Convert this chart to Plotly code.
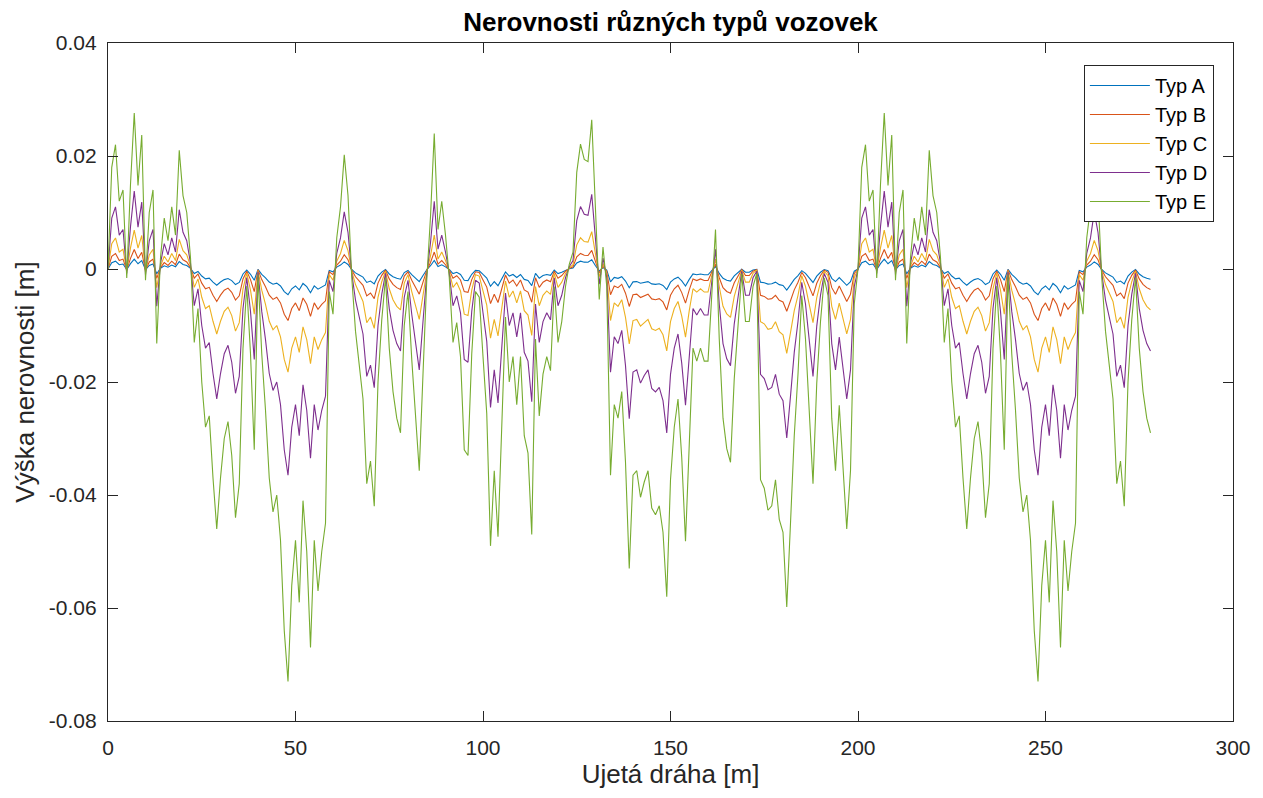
import plotly.graph_objects as go

# Ujetá dráha [m]
distance_m = list(range(0, 279))

# Výška nerovnosti [m] – Typ E (1 m step)
typ_E = [
    0.0000, 0.0180, 0.0220, 0.0120, 0.0140, -0.0016, 0.0150, 0.0276, 0.0148, 0.0237,
    -0.0020, 0.0100, 0.0140, -0.0132, 0.0020, 0.0090, 0.0050, 0.0110, 0.0060, 0.0210,
    0.0130, 0.0100, 0.0020, -0.0130, -0.0070, -0.0200, -0.0280, -0.0260, -0.0370, -0.0460,
    -0.0370, -0.0300, -0.0270, -0.0330, -0.0440, -0.0380, -0.0140, -0.0030, -0.0150, -0.0320,
    -0.0010, -0.0150, -0.0250, -0.0370, -0.0430, -0.0400, -0.0480, -0.0640, -0.0730, -0.0560,
    -0.0480, -0.0590, -0.0410, -0.0500, -0.0670, -0.0480, -0.0570, -0.0500, -0.0450, -0.0040,
    -0.0080, 0.0055, 0.0110, 0.0202, 0.0130, -0.0015, -0.0110, -0.0170, -0.0230, -0.0380,
    -0.0340, -0.0420, -0.0200, -0.0090, -0.0015, -0.0140, -0.0217, -0.0264, -0.0290, -0.0100,
    -0.0040, -0.0160, -0.0260, -0.0357, -0.0186, -0.0020, 0.0093, 0.0240, 0.0070, 0.0120,
    0.0060, -0.0015, -0.0130, -0.0095, -0.0155, -0.0320, -0.0330, -0.0150, -0.0040, -0.0050,
    -0.0155, -0.0256, -0.0490, -0.0357, -0.0474, -0.0264, -0.0085, -0.0200, -0.0155, -0.0240,
    -0.0155, -0.0295, -0.0326, -0.0470, -0.0124, -0.0260, -0.0186, -0.0155, -0.0180, -0.0031,
    -0.0130, -0.0093, -0.0031, 0.0008, 0.0030, 0.0171, 0.0221, 0.0194, 0.0190, 0.0264,
    0.0093, -0.0054, 0.0039, -0.0031, -0.0365, -0.0240, -0.0264, -0.0217, -0.0342, -0.0530,
    -0.0365, -0.0357, -0.0404, -0.0377, -0.0357, -0.0423, -0.0435, -0.0419, -0.0466, -0.0580,
    -0.0373, -0.0280, -0.0230, -0.0334, -0.0482, -0.0295, -0.0140, -0.0163, -0.0140, -0.0163,
    -0.0163, -0.0047, 0.0070, -0.0124, -0.0264, -0.0318, -0.0342, -0.0194, -0.0093, -0.0008,
    -0.0093, -0.0093, -0.0031, -0.0008, -0.0373, -0.0388, -0.0427, -0.0419, -0.0373, -0.0443,
    -0.0466, -0.0598, -0.0450, -0.0295, -0.0186, -0.0047, -0.0124, -0.0249, -0.0380, -0.0202,
    -0.0093, -0.0016, -0.0047, -0.0264, -0.0357, -0.0241, -0.0342, -0.0460, -0.0357, -0.0062,
    0.0000, 0.0180, 0.0220, 0.0120, 0.0140, -0.0016, 0.0150, 0.0276, 0.0148, 0.0237,
    -0.0020, 0.0100, 0.0140, -0.0132, 0.0020, 0.0090, 0.0050, 0.0110, 0.0060, 0.0210,
    0.0130, 0.0100, 0.0020, -0.0130, -0.0070, -0.0200, -0.0280, -0.0260, -0.0370, -0.0460,
    -0.0370, -0.0300, -0.0270, -0.0330, -0.0440, -0.0380, -0.0140, -0.0030, -0.0150, -0.0320,
    -0.0010, -0.0150, -0.0250, -0.0370, -0.0430, -0.0400, -0.0480, -0.0640, -0.0730, -0.0560,
    -0.0480, -0.0590, -0.0410, -0.0500, -0.0670, -0.0480, -0.0570, -0.0500, -0.0450, -0.0040,
    -0.0080, 0.0055, 0.0110, 0.0202, 0.0130, -0.0015, -0.0110, -0.0170, -0.0230, -0.0380,
    -0.0340, -0.0420, -0.0200, -0.0090, -0.0015, -0.0140, -0.0217, -0.0264, -0.0290,
]

typ_D = [
    0.0, 0.009, 0.011, 0.006, 0.007, -0.0008, 0.0075, 0.0138, 0.0074, 0.01185,
    -0.001, 0.005, 0.007, -0.0066, 0.001, 0.0045, 0.0025, 0.0055, 0.003, 0.0105,
    0.0065, 0.005, 0.001, -0.0065, -0.0035, -0.01, -0.014, -0.013, -0.0185, -0.023,
    -0.0185, -0.015, -0.0135, -0.0165, -0.022, -0.019, -0.007, -0.0015, -0.0075, -0.016,
    -0.0005, -0.0075, -0.0125, -0.0185, -0.0215, -0.02, -0.024, -0.032, -0.0365, -0.028,
    -0.024, -0.0295, -0.0205, -0.025, -0.0335, -0.024, -0.0285, -0.025, -0.0225, -0.002,
    -0.004, 0.00275, 0.0055, 0.0101, 0.0065, -0.00075, -0.0055, -0.0085, -0.0115, -0.019,
    -0.017, -0.021, -0.01, -0.0045, -0.00075, -0.007, -0.01085, -0.0132, -0.0145, -0.005,
    -0.002, -0.008, -0.013, -0.01785, -0.0093, -0.001, 0.00465, 0.012, 0.0035, 0.006,
    0.003, -0.00075, -0.0065, -0.00475, -0.00775, -0.016, -0.0165, -0.0075, -0.002, -0.0025,
    -0.00775, -0.0128, -0.0245, -0.01785, -0.0237, -0.0132, -0.00425, -0.01, -0.00775, -0.012,
    -0.00775, -0.01475, -0.0163, -0.0235, -0.0062, -0.013, -0.0093, -0.00775, -0.009, -0.00155,
    -0.0065, -0.00465, -0.00155, 0.0004, 0.0015, 0.00855, 0.01105, 0.0097, 0.0095, 0.0132,
    0.00465, -0.0027, 0.00195, -0.00155, -0.01825, -0.012, -0.0132, -0.01085, -0.0171, -0.0265,
    -0.01825, -0.01785, -0.0202, -0.01885, -0.01785, -0.02115, -0.02175, -0.02095, -0.0233, -0.029,
    -0.01865, -0.014, -0.0115, -0.0167, -0.0241, -0.01475, -0.007, -0.00815, -0.007, -0.00815,
    -0.00815, -0.00235, 0.0035, -0.0062, -0.0132, -0.0159, -0.0171, -0.0097, -0.00465, -0.0004,
    -0.00465, -0.00465, -0.00155, -0.0004, -0.01865, -0.0194, -0.02135, -0.02095, -0.01865, -0.02215,
    -0.0233, -0.0299, -0.0225, -0.01475, -0.0093, -0.00235, -0.0062, -0.01245, -0.019, -0.0101,
    -0.00465, -0.0008, -0.00235, -0.0132, -0.01785, -0.01205, -0.0171, -0.023, -0.01785, -0.0031,
    0.0, 0.009, 0.011, 0.006, 0.007, -0.0008, 0.0075, 0.0138, 0.0074, 0.01185,
    -0.001, 0.005, 0.007, -0.0066, 0.001, 0.0045, 0.0025, 0.0055, 0.003, 0.0105,
    0.0065, 0.005, 0.001, -0.0065, -0.0035, -0.01, -0.014, -0.013, -0.0185, -0.023,
    -0.0185, -0.015, -0.0135, -0.0165, -0.022, -0.019, -0.007, -0.0015, -0.0075, -0.016,
    -0.0005, -0.0075, -0.0125, -0.0185, -0.0215, -0.02, -0.024, -0.032, -0.0365, -0.028,
    -0.024, -0.0295, -0.0205, -0.025, -0.0335, -0.024, -0.0285, -0.025, -0.0225, -0.002,
    -0.004, 0.00275, 0.0055, 0.0101, 0.0065, -0.00075, -0.0055, -0.0085, -0.0115, -0.019,
    -0.017, -0.021, -0.01, -0.0045, -0.00075, -0.007, -0.01085, -0.0132, -0.0145,
]

typ_C = [
    0.0, 0.0045, 0.0055, 0.003, 0.0035, -0.0004, 0.00375, 0.0069, 0.0037, 0.00593,
    -0.0005, 0.0025, 0.0035, -0.0033, 0.0005, 0.00225, 0.00125, 0.00275, 0.0015, 0.00525,
    0.00325, 0.0025, 0.0005, -0.00325, -0.00175, -0.005, -0.007, -0.0065, -0.00925, -0.0115,
    -0.00925, -0.0075, -0.00675, -0.00825, -0.011, -0.0095, -0.0035, -0.00075, -0.00375, -0.008,
    -0.00025, -0.00375, -0.00625, -0.00925, -0.01075, -0.01, -0.012, -0.016, -0.01825, -0.014,
    -0.012, -0.01475, -0.01025, -0.0125, -0.01675, -0.012, -0.01425, -0.0125, -0.01125, -0.001,
    -0.002, 0.00138, 0.00275, 0.00505, 0.00325, -0.00038, -0.00275, -0.00425, -0.00575, -0.0095,
    -0.0085, -0.0105, -0.005, -0.00225, -0.00038, -0.0035, -0.00543, -0.0066, -0.00725, -0.0025,
    -0.001, -0.004, -0.0065, -0.00893, -0.00465, -0.0005, 0.00233, 0.006, 0.00175, 0.003,
    0.0015, -0.00038, -0.00325, -0.00238, -0.00388, -0.008, -0.00825, -0.00375, -0.001, -0.00125,
    -0.00388, -0.0064, -0.01225, -0.00893, -0.01185, -0.0066, -0.00213, -0.005, -0.00388, -0.006,
    -0.00388, -0.00738, -0.00815, -0.01175, -0.0031, -0.0065, -0.00465, -0.00388, -0.0045, -0.00078,
    -0.00325, -0.00233, -0.00078, 0.0002, 0.00075, 0.00428, 0.00553, 0.00485, 0.00475, 0.0066,
    0.00233, -0.00135, 0.00098, -0.00078, -0.00913, -0.006, -0.0066, -0.00543, -0.00855, -0.01325,
    -0.00913, -0.00893, -0.0101, -0.00943, -0.00893, -0.01058, -0.01088, -0.01048, -0.01165, -0.0145,
    -0.00933, -0.007, -0.00575, -0.00835, -0.01205, -0.00738, -0.0035, -0.00408, -0.0035, -0.00408,
    -0.00408, -0.00118, 0.00175, -0.0031, -0.0066, -0.00795, -0.00855, -0.00485, -0.00233, -0.0002,
    -0.00233, -0.00233, -0.00078, -0.0002, -0.00933, -0.0097, -0.01068, -0.01048, -0.00933, -0.01108,
    -0.01165, -0.01495, -0.01125, -0.00738, -0.00465, -0.00118, -0.0031, -0.00623, -0.0095, -0.00505,
    -0.00233, -0.0004, -0.00118, -0.0066, -0.00893, -0.00603, -0.00855, -0.0115, -0.00893, -0.00155,
    0.0, 0.0045, 0.0055, 0.003, 0.0035, -0.0004, 0.00375, 0.0069, 0.0037, 0.00593,
    -0.0005, 0.0025, 0.0035, -0.0033, 0.0005, 0.00225, 0.00125, 0.00275, 0.0015, 0.00525,
    0.00325, 0.0025, 0.0005, -0.00325, -0.00175, -0.005, -0.007, -0.0065, -0.00925, -0.0115,
    -0.00925, -0.0075, -0.00675, -0.00825, -0.011, -0.0095, -0.0035, -0.00075, -0.00375, -0.008,
    -0.00025, -0.00375, -0.00625, -0.00925, -0.01075, -0.01, -0.012, -0.016, -0.01825, -0.014,
    -0.012, -0.01475, -0.01025, -0.0125, -0.01675, -0.012, -0.01425, -0.0125, -0.01125, -0.001,
    -0.002, 0.00138, 0.00275, 0.00505, 0.00325, -0.00038, -0.00275, -0.00425, -0.00575, -0.0095,
    -0.0085, -0.0105, -0.005, -0.00225, -0.00038, -0.0035, -0.00543, -0.0066, -0.00725,
]

typ_B = [
    0.0, 0.00225, 0.00275, 0.0015, 0.00175, -0.0002, 0.00188, 0.00345, 0.00185, 0.00296,
    -0.00025, 0.00125, 0.00175, -0.00165, 0.00025, 0.00113, 0.00063, 0.00138, 0.00075, 0.00263,
    0.00163, 0.00125, 0.00025, -0.00163, -0.00088, -0.0025, -0.0035, -0.00325, -0.00463, -0.00575,
    -0.00463, -0.00375, -0.00338, -0.00413, -0.0055, -0.00475, -0.00175, -0.00038, -0.00188, -0.004,
    -0.00013, -0.00188, -0.00313, -0.00463, -0.00538, -0.005, -0.006, -0.008, -0.00913, -0.007,
    -0.006, -0.00738, -0.00513, -0.00625, -0.00838, -0.006, -0.00713, -0.00625, -0.00563, -0.0005,
    -0.001, 0.00069, 0.00138, 0.00253, 0.00163, -0.00019, -0.00138, -0.00213, -0.00288, -0.00475,
    -0.00425, -0.00525, -0.0025, -0.00113, -0.00019, -0.00175, -0.00271, -0.0033, -0.00363, -0.00125,
    -0.0005, -0.002, -0.00325, -0.00446, -0.00233, -0.00025, 0.00116, 0.003, 0.00088, 0.0015,
    0.00075, -0.00019, -0.00163, -0.00119, -0.00194, -0.004, -0.00413, -0.00188, -0.0005, -0.00063,
    -0.00194, -0.0032, -0.00613, -0.00446, -0.00593, -0.0033, -0.00106, -0.0025, -0.00194, -0.003,
    -0.00194, -0.00369, -0.00408, -0.00588, -0.00155, -0.00325, -0.00233, -0.00194, -0.00225, -0.00039,
    -0.00163, -0.00116, -0.00039, 0.0001, 0.00038, 0.00214, 0.00276, 0.00243, 0.00238, 0.0033,
    0.00116, -0.00068, 0.00049, -0.00039, -0.00456, -0.003, -0.0033, -0.00271, -0.00428, -0.00663,
    -0.00456, -0.00446, -0.00505, -0.00471, -0.00446, -0.00529, -0.00544, -0.00524, -0.00583, -0.00725,
    -0.00466, -0.0035, -0.00288, -0.00418, -0.00603, -0.00369, -0.00175, -0.00204, -0.00175, -0.00204,
    -0.00204, -0.00059, 0.00088, -0.00155, -0.0033, -0.00398, -0.00428, -0.00243, -0.00116, -0.0001,
    -0.00116, -0.00116, -0.00039, -0.0001, -0.00466, -0.00485, -0.00534, -0.00524, -0.00466, -0.00554,
    -0.00583, -0.00748, -0.00563, -0.00369, -0.00233, -0.00059, -0.00155, -0.00311, -0.00475, -0.00253,
    -0.00116, -0.0002, -0.00059, -0.0033, -0.00446, -0.00301, -0.00428, -0.00575, -0.00446, -0.00078,
    0.0, 0.00225, 0.00275, 0.0015, 0.00175, -0.0002, 0.00188, 0.00345, 0.00185, 0.00296,
    -0.00025, 0.00125, 0.00175, -0.00165, 0.00025, 0.00113, 0.00063, 0.00138, 0.00075, 0.00263,
    0.00163, 0.00125, 0.00025, -0.00163, -0.00088, -0.0025, -0.0035, -0.00325, -0.00463, -0.00575,
    -0.00463, -0.00375, -0.00338, -0.00413, -0.0055, -0.00475, -0.00175, -0.00038, -0.00188, -0.004,
    -0.00013, -0.00188, -0.00313, -0.00463, -0.00538, -0.005, -0.006, -0.008, -0.00913, -0.007,
    -0.006, -0.00738, -0.00513, -0.00625, -0.00838, -0.006, -0.00713, -0.00625, -0.00563, -0.0005,
    -0.001, 0.00069, 0.00138, 0.00253, 0.00163, -0.00019, -0.00138, -0.00213, -0.00288, -0.00475,
    -0.00425, -0.00525, -0.0025, -0.00113, -0.00019, -0.00175, -0.00271, -0.0033, -0.00363,
]

typ_A = [
    0.0, 0.00113, 0.00138, 0.00075, 0.00088, -0.0001, 0.00094, 0.00173, 0.00093, 0.00148,
    -0.00013, 0.00063, 0.00088, -0.00083, 0.00013, 0.00056, 0.00031, 0.00069, 0.00038, 0.00131,
    0.00081, 0.00063, 0.00013, -0.00081, -0.00044, -0.00125, -0.00175, -0.00163, -0.00231, -0.00288,
    -0.00231, -0.00188, -0.00169, -0.00206, -0.00275, -0.00238, -0.00088, -0.00019, -0.00094, -0.002,
    -0.00006, -0.00094, -0.00156, -0.00231, -0.00269, -0.0025, -0.003, -0.004, -0.00456, -0.0035,
    -0.003, -0.00369, -0.00256, -0.00313, -0.00419, -0.003, -0.00356, -0.00313, -0.00281, -0.00025,
    -0.0005, 0.00034, 0.00069, 0.00126, 0.00081, -0.00009, -0.00069, -0.00106, -0.00144, -0.00238,
    -0.00213, -0.00263, -0.00125, -0.00056, -0.00009, -0.00088, -0.00136, -0.00165, -0.00181, -0.00063,
    -0.00025, -0.001, -0.00163, -0.00223, -0.00116, -0.00013, 0.00058, 0.0015, 0.00044, 0.00075,
    0.00038, -0.00009, -0.00081, -0.00059, -0.00097, -0.002, -0.00206, -0.00094, -0.00025, -0.00031,
    -0.00097, -0.0016, -0.00306, -0.00223, -0.00296, -0.00165, -0.00053, -0.00125, -0.00097, -0.0015,
    -0.00097, -0.00184, -0.00204, -0.00294, -0.00078, -0.00163, -0.00116, -0.00097, -0.00113, -0.00019,
    -0.00081, -0.00058, -0.00019, 0.00005, 0.00019, 0.00107, 0.00138, 0.00121, 0.00119, 0.00165,
    0.00058, -0.00034, 0.00024, -0.00019, -0.00228, -0.0015, -0.00165, -0.00136, -0.00214, -0.00331,
    -0.00228, -0.00223, -0.00253, -0.00236, -0.00223, -0.00264, -0.00272, -0.00262, -0.00291, -0.00363,
    -0.00233, -0.00175, -0.00144, -0.00209, -0.00301, -0.00184, -0.00088, -0.00102, -0.00088, -0.00102,
    -0.00102, -0.00029, 0.00044, -0.00078, -0.00165, -0.00199, -0.00214, -0.00121, -0.00058, -0.00005,
    -0.00058, -0.00058, -0.00019, -0.00005, -0.00233, -0.00243, -0.00267, -0.00262, -0.00233, -0.00277,
    -0.00291, -0.00374, -0.00281, -0.00184, -0.00116, -0.00029, -0.00078, -0.00156, -0.00238, -0.00126,
    -0.00058, -0.0001, -0.00029, -0.00165, -0.00223, -0.00151, -0.00214, -0.00288, -0.00223, -0.00039,
    0.0, 0.00113, 0.00138, 0.00075, 0.00088, -0.0001, 0.00094, 0.00173, 0.00093, 0.00148,
    -0.00013, 0.00063, 0.00088, -0.00083, 0.00013, 0.00056, 0.00031, 0.00069, 0.00038, 0.00131,
    0.00081, 0.00063, 0.00013, -0.00081, -0.00044, -0.00125, -0.00175, -0.00163, -0.00231, -0.00288,
    -0.00231, -0.00188, -0.00169, -0.00206, -0.00275, -0.00238, -0.00088, -0.00019, -0.00094, -0.002,
    -0.00006, -0.00094, -0.00156, -0.00231, -0.00269, -0.0025, -0.003, -0.004, -0.00456, -0.0035,
    -0.003, -0.00369, -0.00256, -0.00313, -0.00419, -0.003, -0.00356, -0.00313, -0.00281, -0.00025,
    -0.0005, 0.00034, 0.00069, 0.00126, 0.00081, -0.00009, -0.00069, -0.00106, -0.00144, -0.00238,
    -0.00213, -0.00263, -0.00125, -0.00056, -0.00009, -0.00088, -0.00136, -0.00165, -0.00181,
]

series_names = ["Typ A", "Typ B", "Typ C", "Typ D", "Typ E"]
series_values = [typ_A, typ_B, typ_C, typ_D, typ_E]
series_colors = ["#0072BD", "#D95319", "#EDB120", "#7E2F8E", "#77AC30"]

x_tick_vals = [0, 50, 100, 150, 200, 250, 300]
x_tick_text = ["0", "50", "100", "150", "200", "250", "300"]
y_tick_vals = [-0.08, -0.06, -0.04, -0.02, 0, 0.02, 0.04]
y_tick_text = ["-0.08", "-0.06", "-0.04", "-0.02", "0", "0.02", "0.04"]

FONT = "Liberation Sans, Arial, Helvetica, sans-serif"
AX = "#262626"

fig = go.Figure()
for name, vals, col in zip(series_names, series_values, series_colors):
    fig.add_trace(go.Scatter(
        x=distance_m, y=vals, mode="lines", name=name,
        line=dict(color=col, width=1.1),
    ))

axis_common = dict(
    showgrid=False, zeroline=False, showline=True, linecolor=AX, linewidth=1.2,
    mirror="ticks", ticks="inside", ticklen=10, tickwidth=1.2, tickcolor=AX,
    tickfont=dict(family=FONT, size=21, color=AX),
)

# page body adds an 8 px offset, so the figure is 8 px smaller than the window
fig.update_layout(
    width=1255, height=790,
    margin=dict(l=100, r=30, t=35, b=77),
    paper_bgcolor="white", plot_bgcolor="white",
    font=dict(family=FONT, color=AX),
    title=dict(text="<b>Nerovnosti různých typů vozovek</b>", x=0.5, xref="paper",
               y=0.982, yref="container", xanchor="center", yanchor="middle",
               font=dict(family=FONT, size=26, color="black")),
    xaxis=dict(range=[0, 300], tickvals=x_tick_vals, ticktext=x_tick_text,
               ticklabelstandoff=8,
               title=dict(text="Ujetá dráha [m]", font=dict(family=FONT, size=26, color=AX), standoff=4),
               **axis_common),
    yaxis=dict(range=[-0.08, 0.04], tickvals=y_tick_vals, ticktext=y_tick_text,
               ticklabelstandoff=6,
               title=dict(text="Výška nerovnosti [m]", font=dict(family=FONT, size=26, color=AX), standoff=6),
               **axis_common),
    legend=dict(x=0.983, y=0.9676, xanchor="right", yanchor="top",
                bgcolor="white", bordercolor=AX, borderwidth=1,
                font=dict(family=FONT, size=20, color="black"),
                tracegroupgap=0, itemwidth=60),
    showlegend=True,
)

fig.write_html("out.html")
